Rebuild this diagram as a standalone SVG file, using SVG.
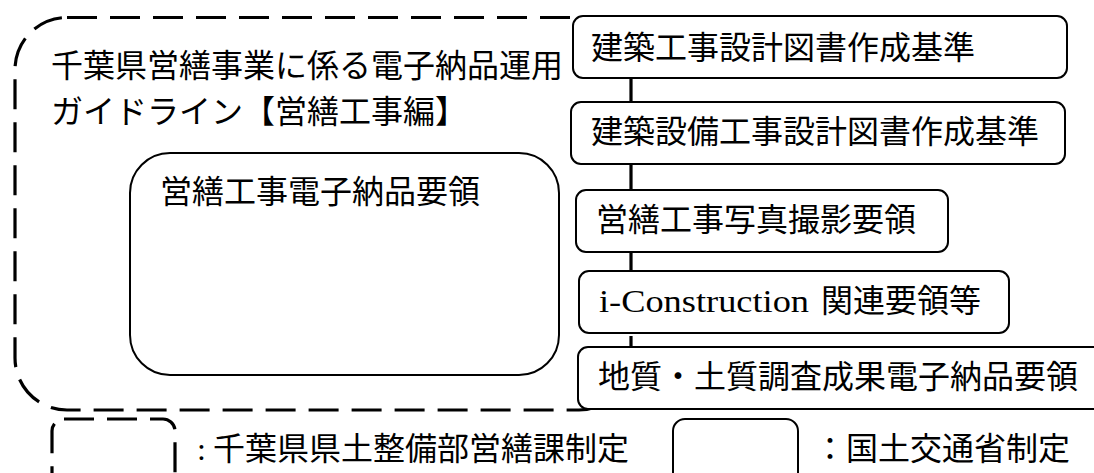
<svg xmlns="http://www.w3.org/2000/svg" width="1094" height="473" viewBox="0 0 1094 473">
<style>
.t{font-family:"Liberation Serif","Noto Sans CJK JP",serif;font-size:32px;fill:#000}
.box{fill:#fff;stroke:#000;stroke-width:2}
.dash{fill:none;stroke:#000;stroke-width:3.2;stroke-dasharray:30 13}
</style>
<rect width="1094" height="473" fill="#fff"/>
<g id="guideline">
<rect class="dash" x="15" y="17.5" width="616" height="392.5" rx="52" ry="52"/>
<text class="t" x="51" y="77">千葉県営繕事業に係る電子納品運用</text>
<text class="t" x="51" y="123">ガイドライン【営繕工事編】</text>
</g>
<g id="denshi-nouhin">
<rect x="130" y="153" width="429" height="222" rx="40" ry="40" fill="#fff" stroke="#000" stroke-width="2"/>
<text class="t" x="160" y="203">営繕工事電子納品要領</text>
</g>
<g id="connectors"></g>
<g id="kenchiku-sekkei">
<rect class="box" x="573" y="16" width="494" height="62" rx="10"/>
<text class="t" x="591" y="59">建築工事設計図書作成基準</text>
</g>
<g id="setsubi-sekkei">
<rect class="box" x="571" y="102" width="494" height="62" rx="10"/>
<text class="t" x="591" y="143">建築設備工事設計図書作成基準</text>
</g>
<g id="shashin">
<rect class="box" x="576" y="190" width="372" height="62" rx="10"/>
<text class="t" x="596" y="231">営繕工事写真撮影要領</text>
</g>
<g id="i-construction">
<rect class="box" x="579" y="271" width="430" height="62" rx="10"/>
<text class="t" x="599" y="312" textLength="210" lengthAdjust="spacingAndGlyphs">i-Construction</text>
<text class="t" x="821" y="312">関連要領等</text>
</g>
<g id="chishitsu">
<rect class="box" x="578" y="347" width="540" height="62" rx="10"/>
<text class="t" x="598" y="388">地質・土質調査成果電子納品要領</text>
</g>
<g id="legend">
<rect class="dash" x="52" y="419" width="123" height="80" rx="12"/>
<text class="t" x="197" y="460">:</text>
<text class="t" x="213" y="460">千葉県県土整備部営繕課制定</text>
<rect x="673" y="419" width="125" height="80" rx="12" fill="#fff" stroke="#000" stroke-width="2"/>
<text class="t" x="814" y="460">：国土交通省制定</text>
</g>
</svg>
